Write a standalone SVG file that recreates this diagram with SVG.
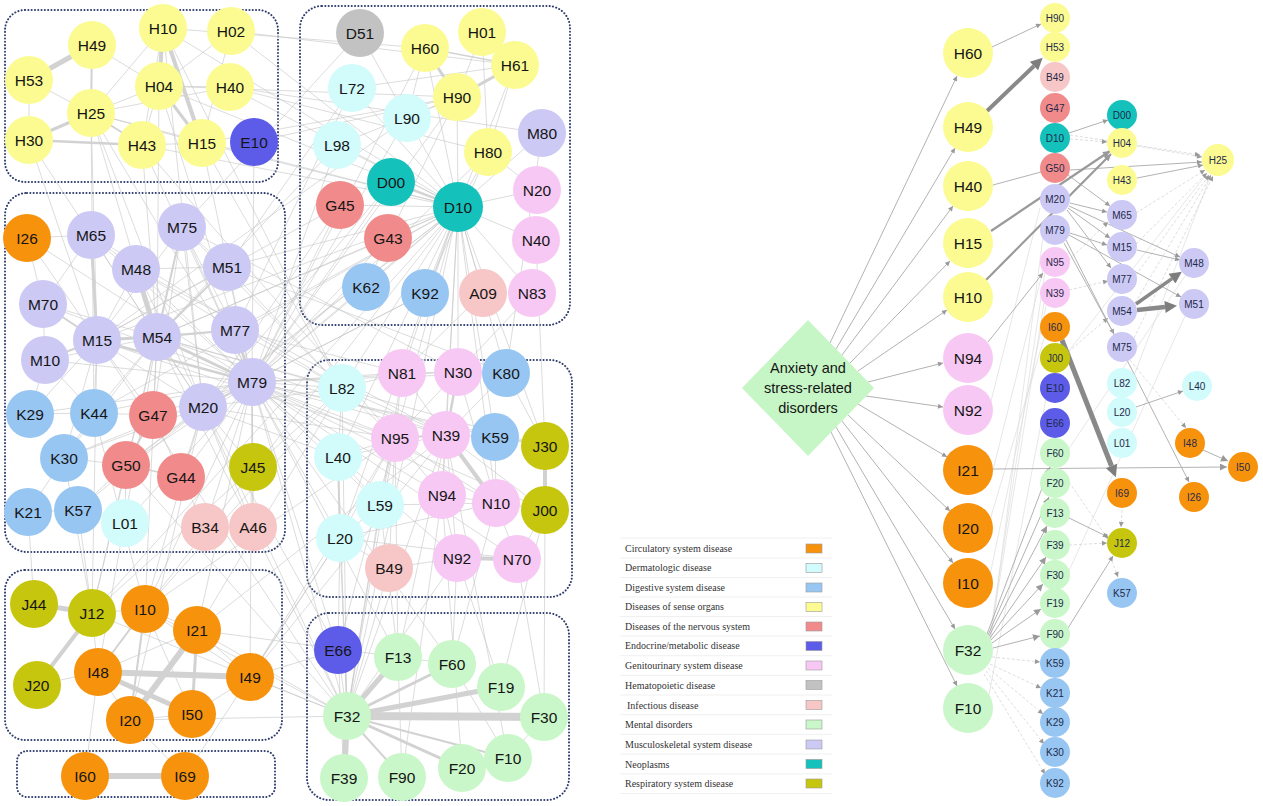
<svg xmlns="http://www.w3.org/2000/svg" width="1263" height="806" viewBox="0 0 1263 806">
<style>
.bg{fill:#ffffff}
.box{fill:none;stroke:#2f3d6e;stroke-width:2;stroke-dasharray:0.1 3.2;stroke-linecap:round}
.e{stroke:#c4c4c4;stroke-width:0.75;fill:none;opacity:0.8}
.t{stroke:#d2d2d2;fill:none}
.ra{stroke:#a9a9a9;stroke-width:0.9;fill:none}
.rm{stroke:#9a9a9a;stroke-width:2.2;fill:none}
.rb{stroke:#898989;fill:none}
.rd{stroke:#cfcfcf;stroke-width:0.7;fill:none;stroke-dasharray:3 2}
.rf{stroke:#dcdcdc;stroke-width:0.7;fill:none}
.lb{font-family:"Liberation Sans",Arial,sans-serif;font-size:15.5px;text-anchor:middle;dominant-baseline:central;fill:#151515}
.sb{font-family:"Liberation Sans",Arial,sans-serif;font-size:10px;text-anchor:middle;dominant-baseline:central;fill:#1f2a4a}
.dm{font-family:"Liberation Sans",Arial,sans-serif;font-size:14.5px;text-anchor:middle;fill:#151515}
.lg{font-family:"Liberation Serif","Times New Roman",serif;font-size:10px;fill:#333333}
.sep{stroke:#ececec;stroke-width:0.8}
.sw{stroke:#9a9a9a;stroke-width:0.6}
.circ{fill:#f7920d}.derm{fill:#d2fbfb}.dig{fill:#98c6f2}.sense{fill:#fbfb92}.nerv{fill:#f18b8b}.endo{fill:#5c5ce8}.genit{fill:#f8c8f4}.hema{fill:#c2c2c2}.inf{fill:#f7c6c6}.ment{fill:#c9f7c9}.musc{fill:#ccc9f4}.neo{fill:#14c2bb}.resp{fill:#c6c60f}
</style>
<defs>
<marker id="ah" viewBox="0 0 10 10" refX="10" refY="5" markerWidth="6" markerHeight="5" markerUnits="userSpaceOnUse" orient="auto"><path d="M0,0 L10,5 L0,10 z" fill="#999999"/></marker>
<marker id="ahm" viewBox="0 0 10 10" refX="10" refY="5" markerWidth="9" markerHeight="7" markerUnits="userSpaceOnUse" orient="auto"><path d="M0,0 L10,5 L0,10 z" fill="#999999"/></marker>
<marker id="ahb" viewBox="0 0 10 10" refX="0" refY="5" markerWidth="14" markerHeight="12" markerUnits="userSpaceOnUse" orient="auto"><path d="M0,0 L10,5 L0,10 z" fill="#7d7d7d"/></marker>
</defs>
<rect class="bg" x="0" y="0" width="1263" height="806"/>

<g id="cluster-boxes">
<rect class="box" x="5" y="10" width="273" height="172" rx="20"/>
<rect class="box" x="300" y="6" width="270" height="319" rx="22"/>
<rect class="box" x="5" y="193" width="280" height="359" rx="22"/>
<rect class="box" x="307" y="360" width="265" height="237" rx="22"/>
<rect class="box" x="5" y="570" width="277" height="170" rx="20"/>
<rect class="box" x="17" y="751" width="258" height="46" rx="10"/>
<rect class="box" x="307" y="613" width="262" height="187" rx="22"/>
</g>

<g id="connectors">
<g id="left-thin-edges">
<path class="e" d="M91 113L159 86"/><path class="e" d="M91 113L163 28"/><path class="e" d="M91 113L202 143"/><path class="e" d="M91 113L29 80"/><path class="e" d="M91 113L230 87"/><path class="e" d="M159 86L142 145"/><path class="e" d="M159 86L230 87"/><path class="e" d="M163 28L142 145"/><path class="e" d="M202 143L142 145"/><path class="e" d="M29 80L29 140"/><path class="e" d="M92 45L159 86"/><path class="e" d="M231 31L202 143"/><path class="e" d="M231 31L159 86"/>
<path class="e" d="M91 113L97 340"/><path class="e" d="M91 113L157 337"/><path class="e" d="M91 113L252 382"/><path class="e" d="M91 113L458 207"/><path class="e" d="M91 113L203 407"/><path class="e" d="M159 86L458 207"/><path class="e" d="M159 86L252 382"/><path class="e" d="M159 86L157 337"/><path class="e" d="M163 28L203 407"/><path class="e" d="M163 28L458 207"/><path class="e" d="M202 143L252 382"/><path class="e" d="M202 143L458 207"/><path class="e" d="M142 145L157 337"/><path class="e" d="M142 145L458 207"/><path class="e" d="M29 140L91 235"/><path class="e" d="M230 87L458 207"/><path class="e" d="M230 87L542 133"/><path class="e" d="M231 31L515 65"/><path class="e" d="M202 143L457 97"/><path class="e" d="M159 86L457 97"/><path class="e" d="M91 113L94 413"/><path class="e" d="M142 145L395 438"/><path class="e" d="M163 28L342 388"/><path class="e" d="M254 142L252 382"/><path class="e" d="M254 142L457 97"/><path class="e" d="M202 143L342 388"/><path class="e" d="M231 31L458 207"/><path class="e" d="M29 140L97 340"/><path class="e" d="M142 145L252 382"/><path class="e" d="M230 87L488 152"/><path class="e" d="M163 28L425 48"/>
<path class="e" d="M458 207L457 97"/><path class="e" d="M458 207L488 152"/><path class="e" d="M458 207L425 48"/><path class="e" d="M458 207L407 118"/><path class="e" d="M458 207L352 88"/><path class="e" d="M458 207L340 205"/><path class="e" d="M458 207L388 238"/><path class="e" d="M458 207L366 287"/><path class="e" d="M458 207L425 293"/><path class="e" d="M458 207L483 293"/><path class="e" d="M458 207L532 293"/><path class="e" d="M458 207L536 240"/><path class="e" d="M458 207L537 190"/><path class="e" d="M458 207L542 133"/><path class="e" d="M458 207L515 65"/><path class="e" d="M458 207L337 145"/><path class="e" d="M458 207L252 382"/><path class="e" d="M458 207L203 407"/><path class="e" d="M458 207L157 337"/><path class="e" d="M458 207L97 340"/><path class="e" d="M458 207L342 388"/><path class="e" d="M458 207L402 373"/><path class="e" d="M458 207L458 372"/><path class="e" d="M458 207L395 438"/><path class="e" d="M458 207L446 435"/><path class="e" d="M458 207L495 437"/><path class="e" d="M458 207L338 457"/><path class="e" d="M458 207L126 465"/><path class="e" d="M458 207L94 413"/><path class="e" d="M458 207L92 613"/><path class="e" d="M458 207L145 609"/><path class="e" d="M458 207L347 716"/><path class="e" d="M458 207L340 538"/><path class="e" d="M458 207L442 495"/><path class="e" d="M458 207L506 373"/><path class="e" d="M458 207L545 446"/><path class="e" d="M458 207L496 503"/><path class="e" d="M458 207L235 330"/><path class="e" d="M458 207L227 267"/>
<path class="e" d="M457 97L407 118"/><path class="e" d="M457 97L252 382"/><path class="e" d="M457 97L337 145"/><path class="e" d="M425 48L407 118"/><path class="e" d="M425 48L252 382"/><path class="e" d="M352 88L515 65"/><path class="e" d="M337 145L252 382"/><path class="e" d="M407 118L252 382"/><path class="e" d="M360 33L407 118"/><path class="e" d="M360 33L182 227"/><path class="e" d="M340 205L252 382"/><path class="e" d="M340 205L203 407"/><path class="e" d="M388 238L252 382"/><path class="e" d="M388 238L157 337"/><path class="e" d="M366 287L252 382"/><path class="e" d="M425 293L252 382"/><path class="e" d="M425 293L203 407"/><path class="e" d="M483 293L402 373"/><path class="e" d="M532 293L458 372"/><path class="e" d="M488 152L537 190"/><path class="e" d="M488 152L252 382"/><path class="e" d="M340 205L97 340"/><path class="e" d="M352 88L235 330"/><path class="e" d="M337 145L157 337"/><path class="e" d="M482 32L457 97"/><path class="e" d="M482 32L488 152"/><path class="e" d="M515 65L488 152"/><path class="e" d="M352 88L227 267"/><path class="e" d="M457 97L388 238"/><path class="e" d="M488 152L425 293"/><path class="e" d="M542 133L506 373"/><path class="e" d="M536 240L545 446"/><path class="e" d="M407 118L97 340"/><path class="e" d="M391 182L252 382"/><path class="e" d="M391 182L203 407"/><path class="e" d="M388 238L366 287"/>
<path class="e" d="M157 337L91 235"/><path class="e" d="M157 337L182 227"/><path class="e" d="M157 337L227 267"/><path class="e" d="M157 337L235 330"/><path class="e" d="M157 337L203 407"/><path class="e" d="M157 337L153 415"/><path class="e" d="M157 337L94 413"/><path class="e" d="M157 337L45 360"/><path class="e" d="M157 337L43 304"/><path class="e" d="M97 340L136 269"/><path class="e" d="M97 340L182 227"/><path class="e" d="M97 340L227 267"/><path class="e" d="M97 340L235 330"/><path class="e" d="M97 340L203 407"/><path class="e" d="M97 340L94 413"/><path class="e" d="M97 340L30 414"/><path class="e" d="M97 340L153 415"/><path class="e" d="M97 340L27 238"/><path class="e" d="M97 340L64 458"/><path class="e" d="M252 382L182 227"/><path class="e" d="M252 382L227 267"/><path class="e" d="M252 382L136 269"/><path class="e" d="M252 382L91 235"/><path class="e" d="M252 382L45 360"/><path class="e" d="M252 382L43 304"/><path class="e" d="M252 382L94 413"/><path class="e" d="M252 382L30 414"/><path class="e" d="M252 382L181 477"/><path class="e" d="M252 382L253 467"/><path class="e" d="M252 382L205 527"/><path class="e" d="M252 382L253 527"/><path class="e" d="M252 382L126 465"/><path class="e" d="M252 382L125 523"/><path class="e" d="M252 382L64 458"/><path class="e" d="M252 382L27 238"/><path class="e" d="M252 382L153 415"/><path class="e" d="M203 407L136 269"/><path class="e" d="M203 407L91 235"/><path class="e" d="M203 407L126 465"/><path class="e" d="M203 407L181 477"/><path class="e" d="M203 407L64 458"/><path class="e" d="M203 407L78 510"/><path class="e" d="M203 407L182 227"/><path class="e" d="M235 330L182 227"/><path class="e" d="M235 330L136 269"/><path class="e" d="M227 267L182 227"/><path class="e" d="M91 235L27 238"/><path class="e" d="M91 235L43 304"/><path class="e" d="M45 360L43 304"/><path class="e" d="M45 360L30 414"/><path class="e" d="M30 414L94 413"/><path class="e" d="M94 413L64 458"/><path class="e" d="M64 458L28 512"/><path class="e" d="M28 512L78 510"/><path class="e" d="M78 510L126 465"/><path class="e" d="M126 465L125 523"/><path class="e" d="M181 477L205 527"/><path class="e" d="M253 467L253 527"/><path class="e" d="M153 415L94 413"/><path class="e" d="M153 415L182 227"/><path class="e" d="M91 235L136 269"/><path class="e" d="M136 269L227 267"/><path class="e" d="M27 238L43 304"/><path class="e" d="M64 458L126 465"/><path class="e" d="M153 415L181 477"/><path class="e" d="M157 337L126 465"/><path class="e" d="M203 407L253 467"/><path class="e" d="M203 407L253 527"/><path class="e" d="M157 337L64 458"/><path class="e" d="M45 360L94 413"/>
<path class="e" d="M252 382L342 388"/><path class="e" d="M252 382L402 373"/><path class="e" d="M252 382L458 372"/><path class="e" d="M252 382L395 438"/><path class="e" d="M252 382L446 435"/><path class="e" d="M252 382L338 457"/><path class="e" d="M252 382L380 505"/><path class="e" d="M252 382L442 495"/><path class="e" d="M252 382L496 503"/><path class="e" d="M252 382L506 373"/><path class="e" d="M252 382L495 437"/><path class="e" d="M252 382L545 446"/><path class="e" d="M252 382L545 510"/><path class="e" d="M252 382L340 538"/><path class="e" d="M252 382L457 558"/><path class="e" d="M252 382L517 559"/><path class="e" d="M203 407L342 388"/><path class="e" d="M203 407L395 438"/><path class="e" d="M203 407L338 457"/><path class="e" d="M157 337L342 388"/><path class="e" d="M157 337L446 435"/><path class="e" d="M97 340L395 438"/><path class="e" d="M157 337L545 446"/><path class="e" d="M182 227L342 388"/><path class="e" d="M227 267L342 388"/><path class="e" d="M235 330L402 373"/><path class="e" d="M235 330L342 388"/><path class="e" d="M182 227L458 372"/><path class="e" d="M227 267L506 373"/><path class="e" d="M136 269L446 435"/><path class="e" d="M91 235L342 388"/>
<path class="e" d="M395 438L402 373"/><path class="e" d="M395 438L342 388"/><path class="e" d="M395 438L338 457"/><path class="e" d="M395 438L380 505"/><path class="e" d="M395 438L442 495"/><path class="e" d="M395 438L496 503"/><path class="e" d="M395 438L340 538"/><path class="e" d="M395 438L389 568"/><path class="e" d="M446 435L402 373"/><path class="e" d="M446 435L495 437"/><path class="e" d="M446 435L442 495"/><path class="e" d="M446 435L506 373"/><path class="e" d="M446 435L457 558"/><path class="e" d="M446 435L545 510"/><path class="e" d="M458 372L506 373"/><path class="e" d="M458 372L496 503"/><path class="e" d="M495 437L496 503"/><path class="e" d="M495 437L545 446"/><path class="e" d="M496 503L545 510"/><path class="e" d="M496 503L517 559"/><path class="e" d="M442 495L457 558"/><path class="e" d="M442 495L496 503"/><path class="e" d="M342 388L338 457"/><path class="e" d="M342 388L402 373"/><path class="e" d="M380 505L340 538"/><path class="e" d="M340 538L389 568"/><path class="e" d="M338 457L380 505"/><path class="e" d="M402 373L458 372"/><path class="e" d="M517 559L545 510"/><path class="e" d="M457 558L389 568"/><path class="e" d="M340 538L517 559"/><path class="e" d="M340 538L496 503"/><path class="e" d="M506 373L545 446"/><path class="e" d="M342 388L446 435"/><path class="e" d="M338 457L446 435"/><path class="e" d="M395 438L458 372"/><path class="e" d="M380 505L496 503"/>
<path class="e" d="M92 613L145 609"/><path class="e" d="M92 613L98 672"/><path class="e" d="M92 613L97 340"/><path class="e" d="M92 613L64 458"/><path class="e" d="M92 613L157 337"/><path class="e" d="M145 609L197 630"/><path class="e" d="M145 609L192 714"/><path class="e" d="M145 609L252 382"/><path class="e" d="M145 609L203 407"/><path class="e" d="M145 609L157 337"/><path class="e" d="M145 609L395 438"/><path class="e" d="M197 630L98 672"/><path class="e" d="M197 630L250 677"/><path class="e" d="M197 630L252 382"/><path class="e" d="M145 609L250 677"/><path class="e" d="M98 672L130 720"/><path class="e" d="M130 720L192 714"/><path class="e" d="M250 677L252 382"/><path class="e" d="M250 677L395 438"/><path class="e" d="M197 630L342 388"/><path class="e" d="M34 604L28 512"/><path class="e" d="M92 613L78 510"/><path class="e" d="M98 672L157 337"/><path class="e" d="M130 720L203 407"/><path class="e" d="M145 609L347 716"/><path class="e" d="M197 630L398 657"/><path class="e" d="M250 677L446 435"/><path class="e" d="M85 776L98 672"/><path class="e" d="M185 776L130 720"/><path class="e" d="M37 685L98 672"/><path class="e" d="M145 609L342 388"/><path class="e" d="M197 630L446 435"/><path class="e" d="M92 613L126 465"/><path class="e" d="M192 714L250 677"/><path class="e" d="M185 776L340 538"/><path class="e" d="M92 613L342 388"/><path class="e" d="M145 609L94 413"/><path class="e" d="M250 677L340 538"/><path class="e" d="M130 720L347 716"/>
<path class="e" d="M347 716L338 650"/><path class="e" d="M347 716L252 382"/><path class="e" d="M347 716L203 407"/><path class="e" d="M347 716L395 438"/><path class="e" d="M347 716L340 538"/><path class="e" d="M347 716L338 457"/><path class="e" d="M347 716L446 435"/><path class="e" d="M347 716L342 388"/><path class="e" d="M347 716L197 630"/><path class="e" d="M347 716L157 337"/><path class="e" d="M347 716L389 568"/><path class="e" d="M347 716L457 558"/><path class="e" d="M347 716L380 505"/><path class="e" d="M347 716L250 677"/><path class="e" d="M347 716L92 613"/><path class="e" d="M347 716L402 373"/><path class="e" d="M347 716L97 340"/><path class="e" d="M347 716L126 465"/><path class="e" d="M398 657L252 382"/><path class="e" d="M398 657L395 438"/><path class="e" d="M398 657L446 435"/><path class="e" d="M398 657L452 664"/><path class="e" d="M452 664L496 503"/><path class="e" d="M501 687L457 558"/><path class="e" d="M544 717L517 559"/><path class="e" d="M462 768L508 758"/><path class="e" d="M402 777L442 495"/><path class="e" d="M508 758L446 435"/><path class="e" d="M338 650L252 382"/><path class="e" d="M338 650L340 538"/><path class="e" d="M338 650L250 677"/><path class="e" d="M338 650L395 438"/><path class="e" d="M398 657L380 505"/><path class="e" d="M544 717L545 510"/><path class="e" d="M452 664L457 558"/><path class="e" d="M501 687L545 510"/><path class="e" d="M508 758L452 664"/><path class="e" d="M402 777L398 657"/><path class="e" d="M452 664L252 382"/><path class="e" d="M462 768L442 495"/><path class="e" d="M344 778L338 650"/><path class="e" d="M508 758L544 717"/><path class="e" d="M338 650L203 407"/>
</g>
<g id="left-strong-edges">
<path class="t" stroke-width="5" d="M92 45L29 80"/><path class="t" stroke-width="2" d="M92 45L91 113"/><path class="t" stroke-width="3" d="M91 113L29 140"/><path class="t" stroke-width="4" d="M163 28L159 86"/><path class="t" stroke-width="4" d="M163 28L202 143"/><path class="t" stroke-width="3" d="M159 86L202 143"/><path class="t" stroke-width="2.5" d="M29 140L142 145"/><path class="t" stroke-width="2" d="M91 113L142 145"/>
<path class="t" stroke-width="3" d="M425 48L457 97"/><path class="t" stroke-width="3" d="M457 97L515 65"/><path class="t" stroke-width="1.5" d="M425 48L515 65"/><path class="t" stroke-width="2" d="M458 207L391 182"/>
<path class="t" stroke-width="5" d="M157 337L136 269"/><path class="t" stroke-width="3" d="M97 340L157 337"/><path class="t" stroke-width="3" d="M157 337L252 382"/><path class="t" stroke-width="3" d="M235 330L252 382"/><path class="t" stroke-width="2.5" d="M97 340L252 382"/><path class="t" stroke-width="2" d="M227 267L157 337"/><path class="t" stroke-width="3" d="M91 235L97 340"/><path class="t" stroke-width="2" d="M203 407L252 382"/><path class="t" stroke-width="2" d="M97 340L45 360"/><path class="t" stroke-width="2" d="M43 304L97 340"/><path class="t" stroke-width="2" d="M153 415L126 465"/><path class="t" stroke-width="1.5" d="M126 465L181 477"/><path class="t" stroke-width="2" d="M157 337L235 330"/><path class="t" stroke-width="2" d="M182 227L157 337"/>
<path class="t" stroke-width="4" d="M545 446L545 510"/><path class="t" stroke-width="4" d="M446 435L496 503"/><path class="t" stroke-width="4" d="M457 558L517 559"/><path class="t" stroke-width="2.5" d="M446 435L458 372"/><path class="t" stroke-width="2" d="M395 438L446 435"/><path class="t" stroke-width="2" d="M338 457L340 538"/>
<path class="t" stroke-width="5" d="M34 604L92 613"/><path class="t" stroke-width="4" d="M92 613L37 685"/><path class="t" stroke-width="6" d="M98 672L250 677"/><path class="t" stroke-width="6" d="M197 630L130 720"/><path class="t" stroke-width="5" d="M98 672L192 714"/><path class="t" stroke-width="3" d="M197 630L192 714"/><path class="t" stroke-width="2" d="M145 609L98 672"/><path class="t" stroke-width="2" d="M145 609L130 720"/>
<path class="t" stroke-width="6" d="M85 776L185 776"/>
<path class="t" stroke-width="8" d="M347 716L544 717"/><path class="t" stroke-width="5" d="M347 716L501 687"/><path class="t" stroke-width="3" d="M347 716L452 664"/><path class="t" stroke-width="5" d="M347 716L398 657"/><path class="t" stroke-width="6" d="M347 716L344 778"/><path class="t" stroke-width="2" d="M347 716L402 777"/><path class="t" stroke-width="3" d="M347 716L462 768"/><path class="t" stroke-width="2" d="M347 716L508 758"/>
</g>
<g id="right-edges">
<path class="rf" d="M990 640L1044 303"/><path class="rf" d="M989 642L1045 272"/><path class="rf" d="M990 575L1046 306"/><path class="rf" d="M990 520L1045 335"/><path class="rf" d="M988 700L1046 398"/><path class="rf" d="M990 645L1043 237"/><path class="rf" d="M993 470L1044 266"/><path class="rf" d="M990 405L1040 208"/><path class="rf" d="M1068 450L1185 276"/><path class="rf" d="M1068 573L1185 316"/><path class="rf" d="M1068 352L1205 176"/><path class="rf" d="M1133 378L1210 177"/>
<path class="rd" marker-end="url(#ah)" d="M1137 146L1202 157"/><path class="rd" marker-end="url(#ah)" d="M1136 213L1205 170"/><path class="rd" marker-end="url(#ah)" d="M1136 244L1207 173"/><path class="rd" marker-end="url(#ah)" d="M1136 275L1209 175"/><path class="rd" marker-end="url(#ah)" d="M1135 303L1211 175"/><path class="rd" marker-end="url(#ah)" d="M1134 338L1213 176"/><path class="rd" marker-end="url(#ah)" d="M1070 135L1200 155"/><path class="rd" marker-end="url(#ah)" d="M1068 352L1108 318"/><path class="rd" marker-end="url(#ah)" d="M1069 290L1108 281"/><path class="rd" marker-end="url(#ah)" d="M1069 260L1108 222"/><path class="rd" marker-end="url(#ah)" d="M1069 482L1108 539"/><path class="rd" marker-end="url(#ah)" d="M1069 545L1107 543"/><path class="rd" marker-end="url(#ah)" d="M1130 360L1186 428"/><path class="rd" marker-end="url(#ah)" d="M1070 139L1107 142"/><path class="rd" marker-end="url(#ah)" d="M1110 556L1118 577"/><path class="rd" marker-end="url(#ah)" d="M1122 510L1121 527"/>
<path class="rd" marker-end="url(#ah)" d="M992 657L1040 662"/><path class="rd" marker-end="url(#ah)" d="M990 664L1041 688"/><path class="rd" marker-end="url(#ah)" d="M988 668L1043 714"/><path class="rd" marker-end="url(#ah)" d="M986 671L1044 744"/><path class="rd" marker-end="url(#ah)" d="M984 674L1045 774"/>
<path class="ra" marker-end="url(#ah)" d="M830 343L957 76"/><path class="ra" marker-end="url(#ah)" d="M836 349L955 148"/><path class="ra" marker-end="url(#ah)" d="M842 355L953 206"/><path class="ra" marker-end="url(#ah)" d="M850 363L950 261"/><path class="ra" marker-end="url(#ah)" d="M858 371L947 310"/><path class="ra" marker-end="url(#ah)" d="M868 382L943 363"/><path class="ra" marker-end="url(#ah)" d="M866 396L943 407"/><path class="ra" marker-end="url(#ah)" d="M858 404L947 457"/><path class="ra" marker-end="url(#ah)" d="M848 415L950 511"/><path class="ra" marker-end="url(#ah)" d="M842 421L953 563"/><path class="ra" marker-end="url(#ah)" d="M836 427L955 629"/><path class="ra" marker-end="url(#ah)" d="M831 432L957 686"/>
<path class="ra" marker-end="url(#ah)" d="M992 47L1041 24"/>
<path class="ra" d="M993 185L1041 172"/>
<path class="ra" marker-end="url(#ah)" d="M988 342L1043 273"/>
<path class="ra" stroke-width="1.2" marker-end="url(#ahm)" d="M993 469L1227 467"/>
<path class="ra" marker-end="url(#ah)" d="M1069 133L1108 120"/>
<path class="ra" stroke-width="1.3" marker-end="url(#ah)" d="M1068 175L1110 206"/><path class="ra" marker-end="url(#ah)" d="M1070 203L1107 212"/><path class="ra" stroke-width="1.3" marker-end="url(#ah)" d="M1068 208L1110 238"/><path class="ra" marker-end="url(#ah)" d="M1067 210L1111 268"/><path class="ra" marker-end="url(#ah)" d="M1070 233L1107 245"/><path class="ra" stroke-width="1.2" marker-end="url(#ah)" d="M1064 243L1114 334"/><path class="ra" marker-end="url(#ah)" d="M1069 206L1180 257"/><path class="ra" marker-end="url(#ah)" d="M1069 235L1181 297"/><path class="ra" marker-end="url(#ah)" d="M1137 250L1180 260"/><path class="ra" stroke-width="0.7" marker-end="url(#ah)" d="M1066 240L1189 482"/>
<path class="ra" marker-end="url(#ah)" d="M1136 407L1183 391"/><path class="ra" stroke-width="2" marker-end="url(#ahm)" d="M1203 450L1228 461"/><path class="ra" marker-end="url(#ah)" d="M1070 170L1202 162"/><path class="ra" marker-end="url(#ah)" d="M1137 178L1203 165"/><path class="ra" marker-end="url(#ah)" d="M1069 518L1108 537"/><path class="ra" stroke-width="0.7" marker-end="url(#ah)" d="M1068 628L1113 556"/>
<path class="ra" stroke-width="1.4" marker-end="url(#ahm)" d="M987 634L1050 467"/><path class="ra" stroke-width="1.4" marker-end="url(#ahm)" d="M988 635L1049 497"/><path class="ra" stroke-width="1.4" marker-end="url(#ahm)" d="M989 636L1047 526"/><path class="ra" stroke-width="1.4" marker-end="url(#ahm)" d="M990 638L1046 557"/><path class="ra" stroke-width="1.4" marker-end="url(#ahm)" d="M991 640L1043 584"/><path class="ra" stroke-width="1.4" marker-end="url(#ahm)" d="M992 643L1041 609"/><path class="ra" stroke-width="1.2" marker-end="url(#ahm)" d="M993 648L1040 636"/>
<path class="rm" marker-end="url(#ahm)" d="M991 231L1110 151"/><path class="rm" marker-end="url(#ahm)" d="M986 280L1111 154"/>
<path class="rb" stroke-width="4" marker-end="url(#ahb)" d="M987 111L1034 66"/>
<path class="rb" stroke-width="5" marker-end="url(#ahb)" d="M1062 340L1111.5 466"/>
<path class="rb" stroke-width="3.5" marker-end="url(#ahb)" d="M1136 304L1172 278.6"/>
<path class="rb" stroke-width="4.5" marker-end="url(#ahb)" d="M1137 310L1165 307"/>
</g>
</g>

<g id="left-nodes">
<g id="n-H10"><circle class="sense" cx="163" cy="28" r="24"/><text class="lb" x="163" y="28">H10</text></g>
<g id="n-H02"><circle class="sense" cx="231" cy="31" r="24"/><text class="lb" x="231" y="31">H02</text></g>
<g id="n-H49"><circle class="sense" cx="92" cy="45" r="24"/><text class="lb" x="92" y="45">H49</text></g>
<g id="n-H53"><circle class="sense" cx="29" cy="80" r="24"/><text class="lb" x="29" y="80">H53</text></g>
<g id="n-H04"><circle class="sense" cx="159" cy="86" r="24"/><text class="lb" x="159" y="86">H04</text></g>
<g id="n-H40"><circle class="sense" cx="230" cy="87" r="24"/><text class="lb" x="230" y="87">H40</text></g>
<g id="n-H25"><circle class="sense" cx="91" cy="113" r="24"/><text class="lb" x="91" y="113">H25</text></g>
<g id="n-H30"><circle class="sense" cx="29" cy="140" r="24"/><text class="lb" x="29" y="140">H30</text></g>
<g id="n-H43"><circle class="sense" cx="142" cy="145" r="24"/><text class="lb" x="142" y="145">H43</text></g>
<g id="n-H15"><circle class="sense" cx="202" cy="143" r="24"/><text class="lb" x="202" y="143">H15</text></g>
<g id="n-E10"><circle class="endo" cx="254" cy="142" r="24"/><text class="lb" x="254" y="142">E10</text></g>
<g id="n-D51"><circle class="hema" cx="360" cy="33" r="24"/><text class="lb" x="360" y="33">D51</text></g>
<g id="n-H01"><circle class="sense" cx="482" cy="32" r="24"/><text class="lb" x="482" y="32">H01</text></g>
<g id="n-H60"><circle class="sense" cx="425" cy="48" r="24"/><text class="lb" x="425" y="48">H60</text></g>
<g id="n-H61"><circle class="sense" cx="515" cy="65" r="24"/><text class="lb" x="515" y="65">H61</text></g>
<g id="n-L72"><circle class="derm" cx="352" cy="88" r="24"/><text class="lb" x="352" y="88">L72</text></g>
<g id="n-H90"><circle class="sense" cx="457" cy="97" r="24"/><text class="lb" x="457" y="97">H90</text></g>
<g id="n-L90"><circle class="derm" cx="407" cy="118" r="24"/><text class="lb" x="407" y="118">L90</text></g>
<g id="n-M80"><circle class="musc" cx="542" cy="133" r="24"/><text class="lb" x="542" y="133">M80</text></g>
<g id="n-L98"><circle class="derm" cx="337" cy="145" r="24"/><text class="lb" x="337" y="145">L98</text></g>
<g id="n-H80"><circle class="sense" cx="488" cy="152" r="24"/><text class="lb" x="488" y="152">H80</text></g>
<g id="n-D00"><circle class="neo" cx="391" cy="182" r="24"/><text class="lb" x="391" y="182">D00</text></g>
<g id="n-N20"><circle class="genit" cx="537" cy="190" r="24"/><text class="lb" x="537" y="190">N20</text></g>
<g id="n-G45"><circle class="nerv" cx="340" cy="205" r="24"/><text class="lb" x="340" y="205">G45</text></g>
<g id="n-D10"><circle class="neo" cx="458" cy="207" r="25"/><text class="lb" x="458" y="207">D10</text></g>
<g id="n-G43"><circle class="nerv" cx="388" cy="238" r="24"/><text class="lb" x="388" y="238">G43</text></g>
<g id="n-N40"><circle class="genit" cx="536" cy="240" r="24"/><text class="lb" x="536" y="240">N40</text></g>
<g id="n-K62"><circle class="dig" cx="366" cy="287" r="24"/><text class="lb" x="366" y="287">K62</text></g>
<g id="n-K92"><circle class="dig" cx="425" cy="293" r="24"/><text class="lb" x="425" y="293">K92</text></g>
<g id="n-A09"><circle class="inf" cx="483" cy="293" r="24"/><text class="lb" x="483" y="293">A09</text></g>
<g id="n-N83"><circle class="genit" cx="532" cy="293" r="24"/><text class="lb" x="532" y="293">N83</text></g>
<g id="n-I26"><circle class="circ" cx="27" cy="238" r="24"/><text class="lb" x="27" y="238">I26</text></g>
<g id="n-M65"><circle class="musc" cx="91" cy="235" r="24"/><text class="lb" x="91" y="235">M65</text></g>
<g id="n-M75"><circle class="musc" cx="182" cy="227" r="24"/><text class="lb" x="182" y="227">M75</text></g>
<g id="n-M48"><circle class="musc" cx="136" cy="269" r="24"/><text class="lb" x="136" y="269">M48</text></g>
<g id="n-M51"><circle class="musc" cx="227" cy="267" r="24"/><text class="lb" x="227" y="267">M51</text></g>
<g id="n-M70"><circle class="musc" cx="43" cy="304" r="24"/><text class="lb" x="43" y="304">M70</text></g>
<g id="n-M15"><circle class="musc" cx="97" cy="340" r="24"/><text class="lb" x="97" y="340">M15</text></g>
<g id="n-M54"><circle class="musc" cx="157" cy="337" r="24"/><text class="lb" x="157" y="337">M54</text></g>
<g id="n-M77"><circle class="musc" cx="235" cy="330" r="24"/><text class="lb" x="235" y="330">M77</text></g>
<g id="n-M10"><circle class="musc" cx="45" cy="360" r="24"/><text class="lb" x="45" y="360">M10</text></g>
<g id="n-M79"><circle class="musc" cx="252" cy="382" r="24"/><text class="lb" x="252" y="382">M79</text></g>
<g id="n-K29"><circle class="dig" cx="30" cy="414" r="24"/><text class="lb" x="30" y="414">K29</text></g>
<g id="n-K44"><circle class="dig" cx="94" cy="413" r="24"/><text class="lb" x="94" y="413">K44</text></g>
<g id="n-G47"><circle class="nerv" cx="153" cy="415" r="24"/><text class="lb" x="153" y="415">G47</text></g>
<g id="n-M20"><circle class="musc" cx="203" cy="407" r="24"/><text class="lb" x="203" y="407">M20</text></g>
<g id="n-K30"><circle class="dig" cx="64" cy="458" r="24"/><text class="lb" x="64" y="458">K30</text></g>
<g id="n-G50"><circle class="nerv" cx="126" cy="465" r="24"/><text class="lb" x="126" y="465">G50</text></g>
<g id="n-G44"><circle class="nerv" cx="181" cy="477" r="24"/><text class="lb" x="181" y="477">G44</text></g>
<g id="n-J45"><circle class="resp" cx="253" cy="467" r="24"/><text class="lb" x="253" y="467">J45</text></g>
<g id="n-K21"><circle class="dig" cx="28" cy="512" r="24"/><text class="lb" x="28" y="512">K21</text></g>
<g id="n-K57"><circle class="dig" cx="78" cy="510" r="24"/><text class="lb" x="78" y="510">K57</text></g>
<g id="n-L01"><circle class="derm" cx="125" cy="523" r="24"/><text class="lb" x="125" y="523">L01</text></g>
<g id="n-B34"><circle class="inf" cx="205" cy="527" r="24"/><text class="lb" x="205" y="527">B34</text></g>
<g id="n-A46"><circle class="inf" cx="253" cy="527" r="24"/><text class="lb" x="253" y="527">A46</text></g>
<g id="n-L82"><circle class="derm" cx="342" cy="388" r="24"/><text class="lb" x="342" y="388">L82</text></g>
<g id="n-N81"><circle class="genit" cx="402" cy="373" r="24"/><text class="lb" x="402" y="373">N81</text></g>
<g id="n-N30"><circle class="genit" cx="458" cy="372" r="24"/><text class="lb" x="458" y="372">N30</text></g>
<g id="n-K80"><circle class="dig" cx="506" cy="373" r="24"/><text class="lb" x="506" y="373">K80</text></g>
<g id="n-N95"><circle class="genit" cx="395" cy="438" r="24"/><text class="lb" x="395" y="438">N95</text></g>
<g id="n-N39"><circle class="genit" cx="446" cy="435" r="24"/><text class="lb" x="446" y="435">N39</text></g>
<g id="n-K59"><circle class="dig" cx="495" cy="437" r="24"/><text class="lb" x="495" y="437">K59</text></g>
<g id="n-J30"><circle class="resp" cx="545" cy="446" r="24"/><text class="lb" x="545" y="446">J30</text></g>
<g id="n-L40"><circle class="derm" cx="338" cy="457" r="24"/><text class="lb" x="338" y="457">L40</text></g>
<g id="n-N94"><circle class="genit" cx="442" cy="495" r="24"/><text class="lb" x="442" y="495">N94</text></g>
<g id="n-N10"><circle class="genit" cx="496" cy="503" r="24"/><text class="lb" x="496" y="503">N10</text></g>
<g id="n-J00"><circle class="resp" cx="545" cy="510" r="24"/><text class="lb" x="545" y="510">J00</text></g>
<g id="n-L59"><circle class="derm" cx="380" cy="505" r="24"/><text class="lb" x="380" y="505">L59</text></g>
<g id="n-L20"><circle class="derm" cx="340" cy="538" r="24"/><text class="lb" x="340" y="538">L20</text></g>
<g id="n-N92"><circle class="genit" cx="457" cy="558" r="24"/><text class="lb" x="457" y="558">N92</text></g>
<g id="n-N70"><circle class="genit" cx="517" cy="559" r="24"/><text class="lb" x="517" y="559">N70</text></g>
<g id="n-B49"><circle class="inf" cx="389" cy="568" r="24"/><text class="lb" x="389" y="568">B49</text></g>
<g id="n-J44"><circle class="resp" cx="34" cy="604" r="24"/><text class="lb" x="34" y="604">J44</text></g>
<g id="n-J12"><circle class="resp" cx="92" cy="613" r="24"/><text class="lb" x="92" y="613">J12</text></g>
<g id="n-I10"><circle class="circ" cx="145" cy="609" r="24"/><text class="lb" x="145" y="609">I10</text></g>
<g id="n-I21"><circle class="circ" cx="197" cy="630" r="24"/><text class="lb" x="197" y="630">I21</text></g>
<g id="n-J20"><circle class="resp" cx="37" cy="685" r="24"/><text class="lb" x="37" y="685">J20</text></g>
<g id="n-I48"><circle class="circ" cx="98" cy="672" r="24"/><text class="lb" x="98" y="672">I48</text></g>
<g id="n-I49"><circle class="circ" cx="250" cy="677" r="24"/><text class="lb" x="250" y="677">I49</text></g>
<g id="n-I20"><circle class="circ" cx="130" cy="720" r="24"/><text class="lb" x="130" y="720">I20</text></g>
<g id="n-I50"><circle class="circ" cx="192" cy="714" r="24"/><text class="lb" x="192" y="714">I50</text></g>
<g id="n-I60"><circle class="circ" cx="85" cy="776" r="24"/><text class="lb" x="85" y="776">I60</text></g>
<g id="n-I69"><circle class="circ" cx="185" cy="776" r="24"/><text class="lb" x="185" y="776">I69</text></g>
<g id="n-E66"><circle class="endo" cx="338" cy="650" r="24"/><text class="lb" x="338" y="650">E66</text></g>
<g id="n-F13"><circle class="ment" cx="398" cy="657" r="24"/><text class="lb" x="398" y="657">F13</text></g>
<g id="n-F60"><circle class="ment" cx="452" cy="664" r="24"/><text class="lb" x="452" y="664">F60</text></g>
<g id="n-F19"><circle class="ment" cx="501" cy="687" r="24"/><text class="lb" x="501" y="687">F19</text></g>
<g id="n-F32"><circle class="ment" cx="347" cy="716" r="24"/><text class="lb" x="347" y="716">F32</text></g>
<g id="n-F30"><circle class="ment" cx="544" cy="717" r="24"/><text class="lb" x="544" y="717">F30</text></g>
<g id="n-F10"><circle class="ment" cx="508" cy="758" r="24"/><text class="lb" x="508" y="758">F10</text></g>
<g id="n-F20"><circle class="ment" cx="462" cy="768" r="24"/><text class="lb" x="462" y="768">F20</text></g>
<g id="n-F39"><circle class="ment" cx="344" cy="778" r="24"/><text class="lb" x="344" y="778">F39</text></g>
<g id="n-F90"><circle class="ment" cx="402" cy="777" r="24"/><text class="lb" x="402" y="777">F90</text></g>
</g>

<g id="legend">
<line class="sep" x1="620" y1="538" x2="832" y2="538"/><line class="sep" x1="620" y1="558" x2="832" y2="558"/><line class="sep" x1="620" y1="577.5" x2="832" y2="577.5"/><line class="sep" x1="620" y1="597" x2="832" y2="597"/><line class="sep" x1="620" y1="616.5" x2="832" y2="616.5"/><line class="sep" x1="620" y1="636" x2="832" y2="636"/><line class="sep" x1="620" y1="655.7" x2="832" y2="655.7"/><line class="sep" x1="620" y1="675.4" x2="832" y2="675.4"/><line class="sep" x1="620" y1="695" x2="832" y2="695"/><line class="sep" x1="620" y1="714.7" x2="832" y2="714.7"/><line class="sep" x1="620" y1="734.4" x2="832" y2="734.4"/><line class="sep" x1="620" y1="754" x2="832" y2="754"/><line class="sep" x1="620" y1="773.8" x2="832" y2="773.8"/><line class="sep" x1="620" y1="793.5" x2="832" y2="793.5"/>
<text class="lg" x="625" y="551.5">Circulatory system disease</text><rect class="circ sw" x="806" y="544" width="16" height="9"/>
<text class="lg" x="625" y="571">Dermatologic disease</text><rect class="derm sw" x="806" y="563.5" width="16" height="9"/>
<text class="lg" x="625" y="590.7">Digestive system disease</text><rect class="dig sw" x="806" y="583" width="16" height="9"/>
<text class="lg" x="625" y="610.2">Diseases of sense organs</text><rect class="sense sw" x="806" y="602.5" width="16" height="9"/>
<text class="lg" x="625" y="629.5">Diseases of the nervous system</text><rect class="nerv sw" x="806" y="622" width="16" height="9"/>
<text class="lg" x="625" y="649.2">Endocrine/metabolic disease</text><rect class="endo sw" x="806" y="641.5" width="16" height="9"/>
<text class="lg" x="625" y="669.2">Genitourinary system disease</text><rect class="genit sw" x="806" y="661" width="16" height="9"/>
<text class="lg" x="625" y="688.5">Hematopoietic disease</text><rect class="hema sw" x="806" y="680.5" width="16" height="9"/>
<text class="lg" x="627" y="708.5">Infectious disease</text><rect class="inf sw" x="806" y="700.5" width="16" height="9"/>
<text class="lg" x="625" y="727.8">Mental disorders</text><rect class="ment sw" x="806" y="720" width="16" height="9"/>
<text class="lg" x="625" y="747.8">Musculoskeletal system disease</text><rect class="musc sw" x="806" y="740" width="16" height="9"/>
<text class="lg" x="625" y="767.5">Neoplasms</text><rect class="neo sw" x="806" y="759.5" width="16" height="9"/>
<text class="lg" x="625" y="787.2">Respiratory system disease</text><rect class="resp sw" x="806" y="779" width="16" height="9"/>
</g>

<g id="right-nodes">
<g id="r-anxiety"><polygon points="808,320 874,388 808,456 742,388" fill="#c6f5c6"/><text class="dm" x="808" y="373">Anxiety and</text><text class="dm" x="808" y="393">stress-related</text><text class="dm" x="808" y="413">disorders</text></g>
<g id="r-H60"><circle class="sense" cx="968" cy="53" r="25"/><text class="lb" x="968" y="53">H60</text></g>
<g id="r-H49"><circle class="sense" cx="968" cy="127" r="25"/><text class="lb" x="968" y="127">H49</text></g>
<g id="r-H40"><circle class="sense" cx="968" cy="186" r="25"/><text class="lb" x="968" y="186">H40</text></g>
<g id="r-H15"><circle class="sense" cx="968" cy="243" r="25"/><text class="lb" x="968" y="243">H15</text></g>
<g id="r-H10"><circle class="sense" cx="968" cy="297" r="25"/><text class="lb" x="968" y="297">H10</text></g>
<g id="r-N94"><circle class="genit" cx="968" cy="358" r="25"/><text class="lb" x="968" y="358">N94</text></g>
<g id="r-N92"><circle class="genit" cx="968" cy="410" r="25"/><text class="lb" x="968" y="410">N92</text></g>
<g id="r-I21"><circle class="circ" cx="968" cy="470" r="25"/><text class="lb" x="968" y="470">I21</text></g>
<g id="r-I20"><circle class="circ" cx="968" cy="528" r="25"/><text class="lb" x="968" y="528">I20</text></g>
<g id="r-I10"><circle class="circ" cx="968" cy="583" r="25"/><text class="lb" x="968" y="583">I10</text></g>
<g id="r-F32"><circle class="ment" cx="968" cy="650" r="25"/><text class="lb" x="968" y="650">F32</text></g>
<g id="r-F10"><circle class="ment" cx="968" cy="708" r="25"/><text class="lb" x="968" y="708">F10</text></g>
<g id="r-H90"><circle class="sense" cx="1055" cy="18" r="15"/><text class="sb" x="1055" y="18">H90</text></g>
<g id="r-H53"><circle class="sense" cx="1055" cy="47" r="15"/><text class="sb" x="1055" y="47">H53</text></g>
<g id="r-B49"><circle class="inf" cx="1055" cy="77" r="15"/><text class="sb" x="1055" y="77">B49</text></g>
<g id="r-G47"><circle class="nerv" cx="1055" cy="108" r="15"/><text class="sb" x="1055" y="108">G47</text></g>
<g id="r-D10"><circle class="neo" cx="1055" cy="138" r="15"/><text class="sb" x="1055" y="138">D10</text></g>
<g id="r-G50"><circle class="nerv" cx="1055" cy="168" r="15"/><text class="sb" x="1055" y="168">G50</text></g>
<g id="r-M20"><circle class="musc" cx="1055" cy="199" r="15"/><text class="sb" x="1055" y="199">M20</text></g>
<g id="r-M79"><circle class="musc" cx="1055" cy="230" r="15"/><text class="sb" x="1055" y="230">M79</text></g>
<g id="r-N95"><circle class="genit" cx="1055" cy="262" r="15"/><text class="sb" x="1055" y="262">N95</text></g>
<g id="r-N39"><circle class="genit" cx="1055" cy="293" r="15"/><text class="sb" x="1055" y="293">N39</text></g>
<g id="r-I60"><circle class="circ" cx="1055" cy="327" r="15"/><text class="sb" x="1055" y="327">I60</text></g>
<g id="r-J00"><circle class="resp" cx="1055" cy="358" r="15"/><text class="sb" x="1055" y="358">J00</text></g>
<g id="r-E10"><circle class="endo" cx="1055" cy="388" r="15"/><text class="sb" x="1055" y="388">E10</text></g>
<g id="r-E66"><circle class="endo" cx="1055" cy="423" r="15"/><text class="sb" x="1055" y="423">E66</text></g>
<g id="r-F60"><circle class="ment" cx="1055" cy="453" r="15"/><text class="sb" x="1055" y="453">F60</text></g>
<g id="r-F20"><circle class="ment" cx="1055" cy="483" r="15"/><text class="sb" x="1055" y="483">F20</text></g>
<g id="r-F13"><circle class="ment" cx="1055" cy="513" r="15"/><text class="sb" x="1055" y="513">F13</text></g>
<g id="r-F39"><circle class="ment" cx="1055" cy="545" r="15"/><text class="sb" x="1055" y="545">F39</text></g>
<g id="r-F30"><circle class="ment" cx="1055" cy="575" r="15"/><text class="sb" x="1055" y="575">F30</text></g>
<g id="r-F19"><circle class="ment" cx="1055" cy="603" r="15"/><text class="sb" x="1055" y="603">F19</text></g>
<g id="r-F90"><circle class="ment" cx="1055" cy="634" r="15"/><text class="sb" x="1055" y="634">F90</text></g>
<g id="r-K59"><circle class="dig" cx="1055" cy="663" r="15"/><text class="sb" x="1055" y="663">K59</text></g>
<g id="r-K21"><circle class="dig" cx="1055" cy="693" r="15"/><text class="sb" x="1055" y="693">K21</text></g>
<g id="r-K29"><circle class="dig" cx="1055" cy="722" r="15"/><text class="sb" x="1055" y="722">K29</text></g>
<g id="r-K30"><circle class="dig" cx="1055" cy="752" r="15"/><text class="sb" x="1055" y="752">K30</text></g>
<g id="r-K92"><circle class="dig" cx="1055" cy="783" r="15"/><text class="sb" x="1055" y="783">K92</text></g>
<g id="r-D00"><circle class="neo" cx="1122" cy="115" r="15"/><text class="sb" x="1122" y="115">D00</text></g>
<g id="r-H04"><circle class="sense" cx="1122" cy="143" r="15"/><text class="sb" x="1122" y="143">H04</text></g>
<g id="r-H43"><circle class="sense" cx="1122" cy="180" r="15"/><text class="sb" x="1122" y="180">H43</text></g>
<g id="r-M65"><circle class="musc" cx="1122" cy="215" r="15"/><text class="sb" x="1122" y="215">M65</text></g>
<g id="r-M15"><circle class="musc" cx="1122" cy="247" r="15"/><text class="sb" x="1122" y="247">M15</text></g>
<g id="r-M77"><circle class="musc" cx="1122" cy="279" r="15"/><text class="sb" x="1122" y="279">M77</text></g>
<g id="r-M54"><circle class="musc" cx="1122" cy="311" r="15"/><text class="sb" x="1122" y="311">M54</text></g>
<g id="r-M75"><circle class="musc" cx="1122" cy="347" r="15"/><text class="sb" x="1122" y="347">M75</text></g>
<g id="r-L82"><circle class="derm" cx="1122" cy="383" r="15"/><text class="sb" x="1122" y="383">L82</text></g>
<g id="r-L20"><circle class="derm" cx="1122" cy="412" r="15"/><text class="sb" x="1122" y="412">L20</text></g>
<g id="r-L01"><circle class="derm" cx="1122" cy="443" r="15"/><text class="sb" x="1122" y="443">L01</text></g>
<g id="r-I69"><circle class="circ" cx="1122" cy="493" r="15"/><text class="sb" x="1122" y="493">I69</text></g>
<g id="r-J12"><circle class="resp" cx="1122" cy="543" r="15"/><text class="sb" x="1122" y="543">J12</text></g>
<g id="r-K57"><circle class="dig" cx="1122" cy="593" r="15"/><text class="sb" x="1122" y="593">K57</text></g>
<g id="r-H25"><circle class="sense" cx="1218" cy="160" r="16"/><text class="sb" x="1218" y="160">H25</text></g>
<g id="r-M48"><circle class="musc" cx="1194" cy="263" r="15"/><text class="sb" x="1194" y="263">M48</text></g>
<g id="r-M51"><circle class="musc" cx="1194" cy="304" r="15"/><text class="sb" x="1194" y="304">M51</text></g>
<g id="r-L40"><circle class="derm" cx="1197" cy="386" r="15"/><text class="sb" x="1197" y="386">L40</text></g>
<g id="r-I48"><circle class="circ" cx="1190" cy="443" r="15"/><text class="sb" x="1190" y="443">I48</text></g>
<g id="r-I50"><circle class="circ" cx="1243" cy="467" r="15"/><text class="sb" x="1243" y="467">I50</text></g>
<g id="r-I26"><circle class="circ" cx="1194" cy="497" r="15"/><text class="sb" x="1194" y="497">I26</text></g>
</g>
</svg>
